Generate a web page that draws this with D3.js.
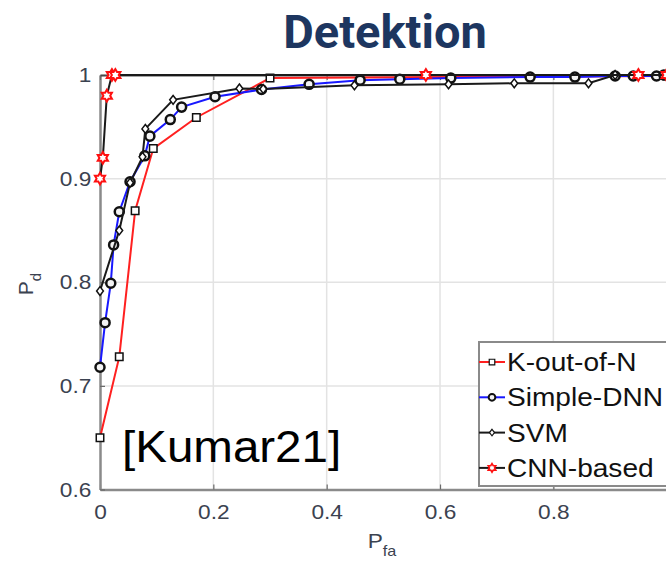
<!DOCTYPE html>
<html>
<head>
<meta charset="utf-8">
<script src="https://cdn.jsdelivr.net/npm/d3@7"></script>
<style>
  body { margin: 0; background: #fff; }
  svg { display: block; }
</style>
</head>
<body>
<script>
// values
const xTicks = [0, 0.2, 0.4, 0.6, 0.8, 1];
const yTicks = [0.6, 0.7, 0.8, 0.9, 1];
const seriesNames = ["K-out-of-N", "Simple-DNN", "SVM", "CNN-based"];

const kOutOfN = [[0, 0.650], [0.034, 0.728], [0.062, 0.869], [0.094, 0.929], [0.170, 0.959], [0.300, 0.997], [1.0, 0.999]];
const simpleDnn = [[0, 0.718], [0.009, 0.761], [0.019, 0.799], [0.024, 0.836], [0.034, 0.868], [0.053, 0.897],
  [0.079, 0.922], [0.088, 0.941], [0.124, 0.957], [0.144, 0.969], [0.203, 0.979], [0.285, 0.986], [0.369, 0.991],
  [0.459, 0.995], [0.529, 0.996], [0.619, 0.997], [0.759, 0.998], [0.838, 0.998], [0.909, 0.999], [0.941, 0.999],
  [0.982, 0.999], [0.995, 1.0]];
const svm = [[0, 0.7915], [0.034, 0.850], [0.053, 0.896], [0.075, 0.921], [0.080, 0.948], [0.129, 0.976],
  [0.246, 0.987], [0.288, 0.9865], [0.449, 0.990], [0.615, 0.991], [0.731, 0.992], [0.862, 0.992], [0.909, 1.0], [1.0, 1.0]];
const cnnBased = [[0, 0.900], [0.005, 0.920], [0.012, 0.980], [0.021, 1.0], [0.027, 1.0], [0.575, 1.0], [0.950, 1.0], [1.0, 1.0]];

const width = 666, height = 566;
const sx = 1.08; // the source picture is a bit wider than tall

const svg = d3.select("body").append("svg")
  .attr("width", width)
  .attr("height", height);

svg.append("rect").attr("width", width).attr("height", height).attr("fill", "#fff");

// title of the slide
svg.append("text")
  .attr("x", 385).attr("y", 48)
  .attr("text-anchor", "middle")
  .style("font-family", "Roboto, sans-serif")
  .style("font-weight", 700)
  .style("font-size", "47px")
  .attr("fill", "#1d3660")
  .text("Detektion");

const x = d3.scaleLinear().domain([0, 1]).range([100, 666.7]);
const y = d3.scaleLinear().domain([0.6, 1]).range([489.5, 75]);

const plot = svg.append("g");

// grid
plot.selectAll(".gx").data(xTicks.slice(1, -1)).enter().append("line")
  .attr("x1", d => x(d)).attr("x2", d => x(d))
  .attr("y1", y(0.6)).attr("y2", y(1))
  .attr("stroke", "#e3e3e3").attr("stroke-width", 1.5);
plot.selectAll(".gy").data(yTicks.slice(1, -1)).enter().append("line")
  .attr("x1", x(0)).attr("x2", x(1))
  .attr("y1", d => y(d)).attr("y2", d => y(d))
  .attr("stroke", "#e3e3e3").attr("stroke-width", 1.5);

const fmt = d => (d === 0 || d === 1) ? String(d) : d3.format(".1f")(d);
// the "1" under the x axis falls off the cropped picture
const fmtX = d => d === 1 ? "" : fmt(d);
const tickFont = "'Liberation Sans', Arial, sans-serif";

// axes
const xAxis = plot.append("g")
  .attr("transform", `translate(0,${y(0.6)})`)
  .call(d3.axisBottom(x).tickValues(xTicks).tickFormat(fmtX).tickSizeInner(-5).tickSizeOuter(0).tickPadding(15));
const yAxis = plot.append("g")
  .attr("transform", `translate(${x(0)},0)`)
  .call(d3.axisLeft(y).tickValues(yTicks).tickFormat(fmt).tickSizeInner(-5).tickSizeOuter(0).tickPadding(8));
const topAxis = plot.append("g")
  .attr("transform", `translate(0,${y(1)})`)
  .call(d3.axisTop(x).tickValues(xTicks).tickFormat("").tickSizeInner(-5).tickSizeOuter(0));

[xAxis, yAxis, topAxis].forEach(g => {
  g.select(".domain").attr("stroke", "#8a8a8a").attr("stroke-width", 2.5);
  g.selectAll(".tick line").attr("stroke", "#6a6a6a").attr("stroke-width", 1.2);
  g.selectAll(".tick text")
    .attr("fill", "#3b4250")
    .style("font-family", tickFont)
    .style("font-size", "21px")
    .attr("transform", `scale(${sx},1)`);
});
topAxis.select(".domain").attr("stroke", "#4a4a4a").attr("stroke-width", 2);

// markers
const hexagram = {
  draw(ctx, size) {
    const r = Math.sqrt(size) * 0.62;
    for (let i = 0; i < 12; i++) {
      const a = -Math.PI / 2 + i * Math.PI / 6;
      const rr = i % 2 ? r * 0.58 : r;
      if (i === 0) ctx.moveTo(rr * Math.cos(a), rr * Math.sin(a));
      else ctx.lineTo(rr * Math.cos(a), rr * Math.sin(a));
    }
    ctx.closePath();
  }
};
const diamond = {
  draw(ctx, size) {
    const r = Math.sqrt(size) / 2;
    ctx.moveTo(0, -r * 1.1); ctx.lineTo(r * 0.85, 0); ctx.lineTo(0, r * 1.1); ctx.lineTo(-r * 0.85, 0); ctx.closePath();
  }
};

const styles = {
  "K-out-of-N": { line: "#ff2020", marker: d3.symbolSquare, size: 56, mStroke: "#111", mFill: "#fff", mWidth: 1.5 },
  "Simple-DNN": { line: "#1818ff", marker: d3.symbolCircle, size: 64, mStroke: "#111", mFill: "#f4f4f4", mWidth: 2.5 },
  "SVM": { line: "#1a1a1a", marker: diamond, size: 64, mStroke: "#111", mFill: "#fff", mWidth: 1.5 },
  "CNN-based": { line: "#1a1a1a", marker: hexagram, size: 90, mStroke: "#ff1010", mFill: "#fff", mWidth: 2 }
};

const allSeries = [kOutOfN, simpleDnn, svm, cnnBased];
const line = d3.line().x(d => x(d[0])).y(d => y(d[1]));

allSeries.forEach((data, i) => {
  const st = styles[seriesNames[i]];
  const g = plot.append("g");
  g.append("path")
    .datum(data)
    .attr("d", line)
    .attr("fill", "none")
    .attr("stroke", st.line)
    .attr("stroke-width", 2);
  g.selectAll("path.m").data(data).enter().append("path")
    .attr("class", "m")
    .attr("transform", d => `translate(${x(d[0])},${y(d[1])})`)
    .attr("d", d3.symbol().type(st.marker).size(st.size))
    .attr("fill", st.mFill)
    .attr("stroke", st.mStroke)
    .attr("stroke-width", st.mWidth);
});

// citation
svg.append("text")
  .attr("transform", `translate(122,462) scale(${sx},1)`)
  .style("font-family", tickFont)
  .style("font-size", "44px")
  .attr("fill", "#000")
  .text("[Kumar21]");

// axis labels
const xl = svg.append("text")
  .attr("transform", `translate(382,548) scale(${sx},1)`)
  .attr("text-anchor", "middle")
  .style("font-family", tickFont)
  .style("font-size", "21px")
  .attr("fill", "#3b4250");
xl.append("tspan").text("P");
xl.append("tspan").attr("dy", 8).style("font-size", "15px").text("fa");

const yl = svg.append("text")
  .attr("transform", `translate(33,284) rotate(-90)`)
  .attr("text-anchor", "middle")
  .style("font-family", tickFont)
  .style("font-size", "21px")
  .attr("fill", "#3b4250");
yl.append("tspan").text("P");
yl.append("tspan").attr("dy", 8).style("font-size", "15px").text("d");

// legend
const legend = svg.append("g").attr("transform", "translate(479,342)");
legend.append("rect")
  .attr("width", 200).attr("height", 144)
  .attr("fill", "#fff")
  .attr("stroke", "#8a8a8a").attr("stroke-width", 2);

const rows = legend.selectAll(".row").data(seriesNames).enter().append("g")
  .attr("transform", (d, i) => `translate(0,${20 + i * 35.3})`);
rows.append("line")
  .attr("x1", 0).attr("x2", 26)
  .attr("stroke", d => styles[d].line).attr("stroke-width", 2);
rows.append("path")
  .attr("transform", "translate(13,0)")
  .attr("d", d => d3.symbol().type(styles[d].marker).size(styles[d].size * 0.55)())
  .attr("fill", d => styles[d].mFill)
  .attr("stroke", d => styles[d].mStroke)
  .attr("stroke-width", d => styles[d].mWidth * 0.8);
rows.append("text")
  .attr("transform", `translate(28,9) scale(${sx},1)`)
  .style("font-family", tickFont)
  .style("font-size", "26px")
  .attr("fill", "#111")
  .text(d => d);
</script>
</body>
</html>
